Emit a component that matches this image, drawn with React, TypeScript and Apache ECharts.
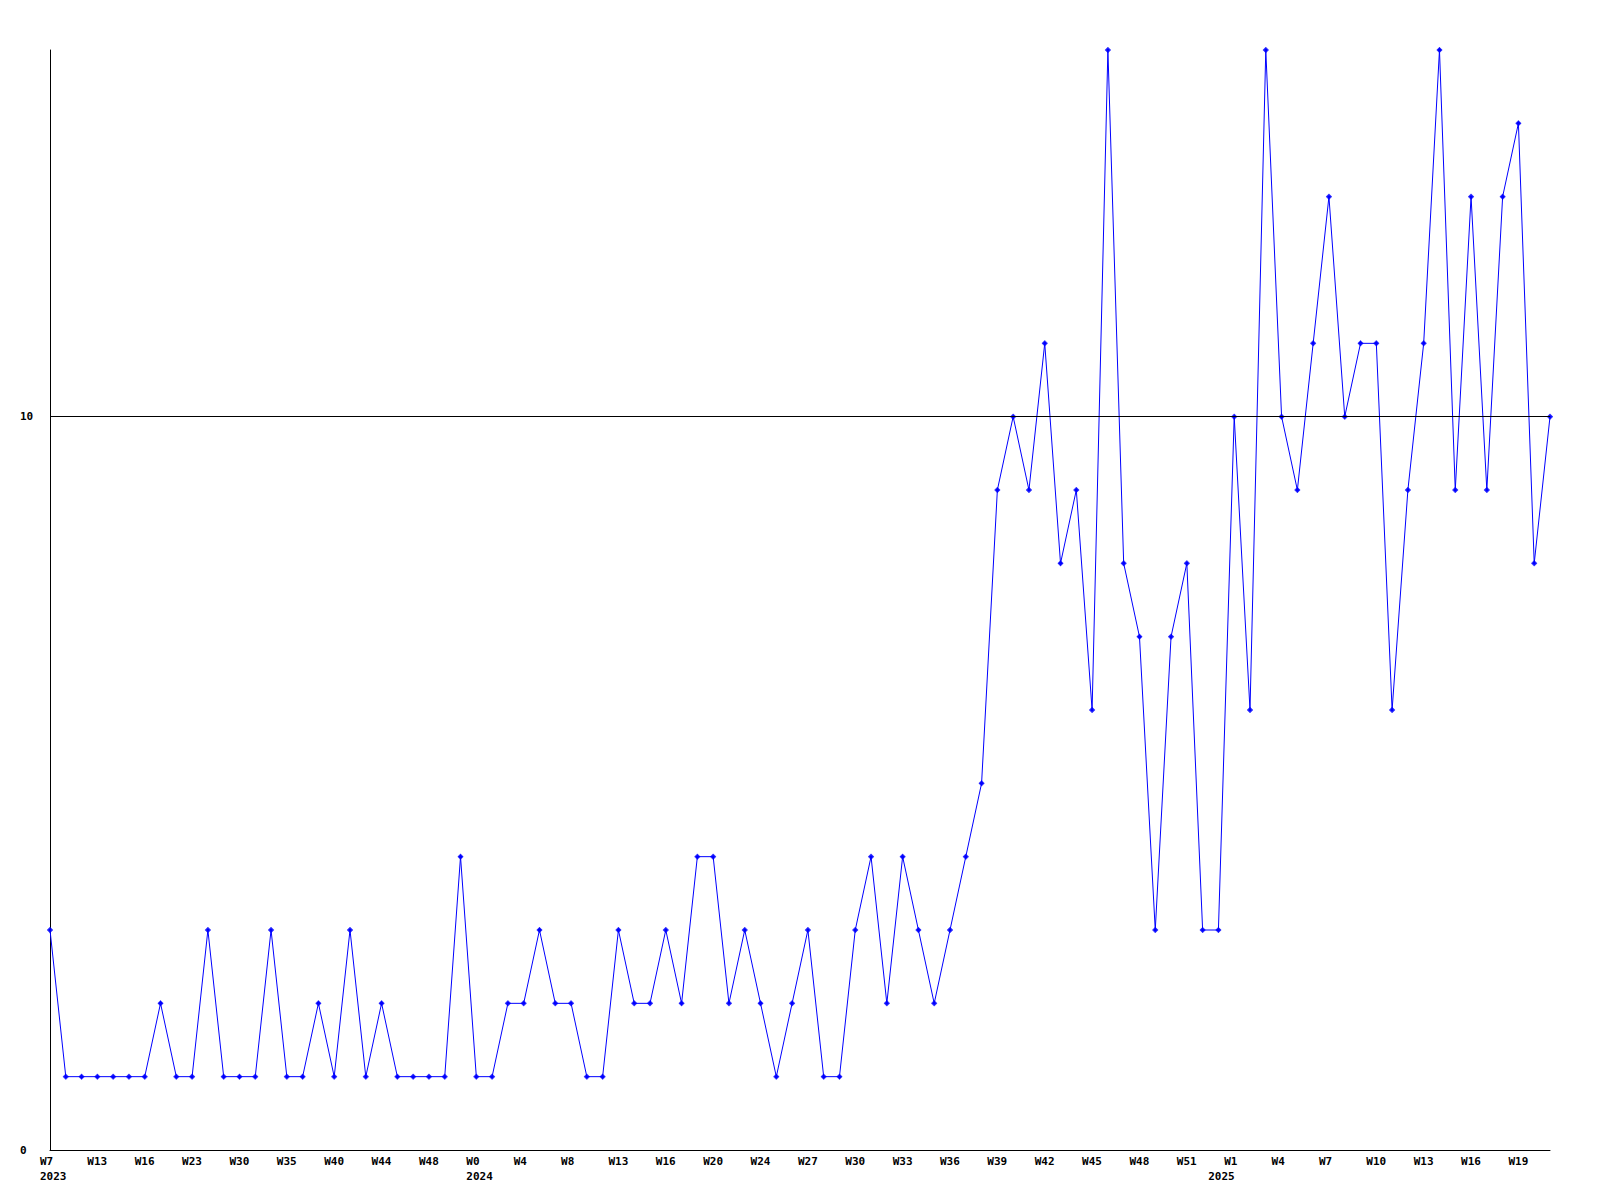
import React, { useEffect, useRef } from "react";
import * as echarts from "echarts";

// Weekly values, one per point (96 points)
const values = [
  3, 1, 1, 1, 1, 1, 1, 2, 1, 1, 3, 1, 1, 1, 3, 1, 1, 2, 1, 3, 1, 2, 1, 1, 1, 1,
  4, 1, 1, 2, 2, 3, 2, 2, 1, 1, 3, 2, 2, 3, 2, 4, 4, 2, 3, 2, 1, 2, 3, 1, 1, 3,
  4, 2, 4, 3, 2, 3, 4, 5, 9, 10, 9, 11, 8, 9, 6, 15, 8, 7, 3, 7, 8, 3, 3, 10, 6,
  15, 10, 9, 11, 13, 10, 11, 11, 6, 9, 11, 15, 9, 13, 9, 13, 14, 8, 10,
];

// Tick labels shown every third point
const weekLabels = [
  "W7", "W13", "W16", "W23", "W30", "W35", "W40", "W44", "W48", "W0", "W4",
  "W8", "W13", "W16", "W20", "W24", "W27", "W30", "W33", "W36", "W39", "W42",
  "W45", "W48", "W51", "W1", "W4", "W7", "W10", "W13", "W16", "W19",
];
const yearLabels: Record<number, string> = { 0: "2023", 9: "2024", 25: "2025" };
const yLabels = [0, 10];
const threshold = 10;

const categories = values.map((_, i) => String(i));

const FONT = "'DejaVu Sans Mono', monospace";

export default function App() {
  const ref = useRef<HTMLDivElement>(null);
  useEffect(() => {
    if (!ref.current) return;
    const chart = echarts.init(ref.current, null, { renderer: "svg" });
    chart.setOption({
      animation: false,
      backgroundColor: "#ffffff",
      grid: { left: 50, right: 50, top: 50, bottom: 50, containLabel: false },
      xAxis: {
        type: "category",
        data: categories,
        boundaryGap: false,
        axisLine: { show: true, lineStyle: { color: "#000", width: 1 } },
        axisTick: { show: false },
        splitLine: { show: false },
        axisLabel: {
          interval: 2,
          align: "left",
          margin: 4,
          padding: [0, 0, 0, -10],
          color: "#000",
          fontFamily: FONT,
          fontWeight: "bold",
          fontSize: 11,
          lineHeight: 15,
          formatter: (_v: string, idx: number) => {
            if (idx % 3 !== 0) return "";
            const k = idx / 3;
            const w = weekLabels[k] ?? "";
            const y = yearLabels[k];
            if (!y) return w;
            if (k === 25) return `{w|${w}}\n{s|${y}}`;
            return `${w}\n${y}`;
          },
          rich: {
            w: { fontFamily: FONT, fontWeight: "bold", fontSize: 11, lineHeight: 15, color: "#000" },
            s: {
              fontFamily: FONT,
              fontWeight: "bold",
              fontSize: 11,
              lineHeight: 15,
              color: "#000",
              padding: [0, 0, 0, -16],
            },
          },
        },
      },
      yAxis: {
        type: "value",
        min: 0,
        max: 15,
        interval: 5,
        axisLine: { show: true, lineStyle: { color: "#000", width: 1 } },
        axisTick: { show: false },
        splitLine: { show: false },
        axisLabel: {
          align: "left",
          margin: 30,
          color: "#000",
          fontFamily: FONT,
          fontWeight: "bold",
          fontSize: 11,
          showMaxLabel: false,
          formatter: (v: number) => (yLabels.includes(v) ? String(v) : ""),
        },
      },
      series: [
        {
          type: "line",
          data: values,
          symbol: "path://M2,0H3V1H4V2H5V3H4V4H3V5H2V4H1V3H0V2H1V1H2Z",
          symbolSize: 5,
          showSymbol: true,
          itemStyle: { color: "#0000ff", borderColor: "#0000ff", borderWidth: 0.5 },
          lineStyle: { color: "#0000ff", width: 1 },
          markLine: {
            silent: true,
            symbol: "none",
            label: { show: false },
            lineStyle: { color: "#000", width: 1, type: "solid" },
            data: [{ yAxis: threshold }],
          },
        },
      ],
    });
    return () => chart.dispose();
  }, []);
  return (
    <div
      ref={ref}
      style={{ position: "absolute", left: 0, top: 0, width: 1600, height: 1200 }}
    />
  );
}
